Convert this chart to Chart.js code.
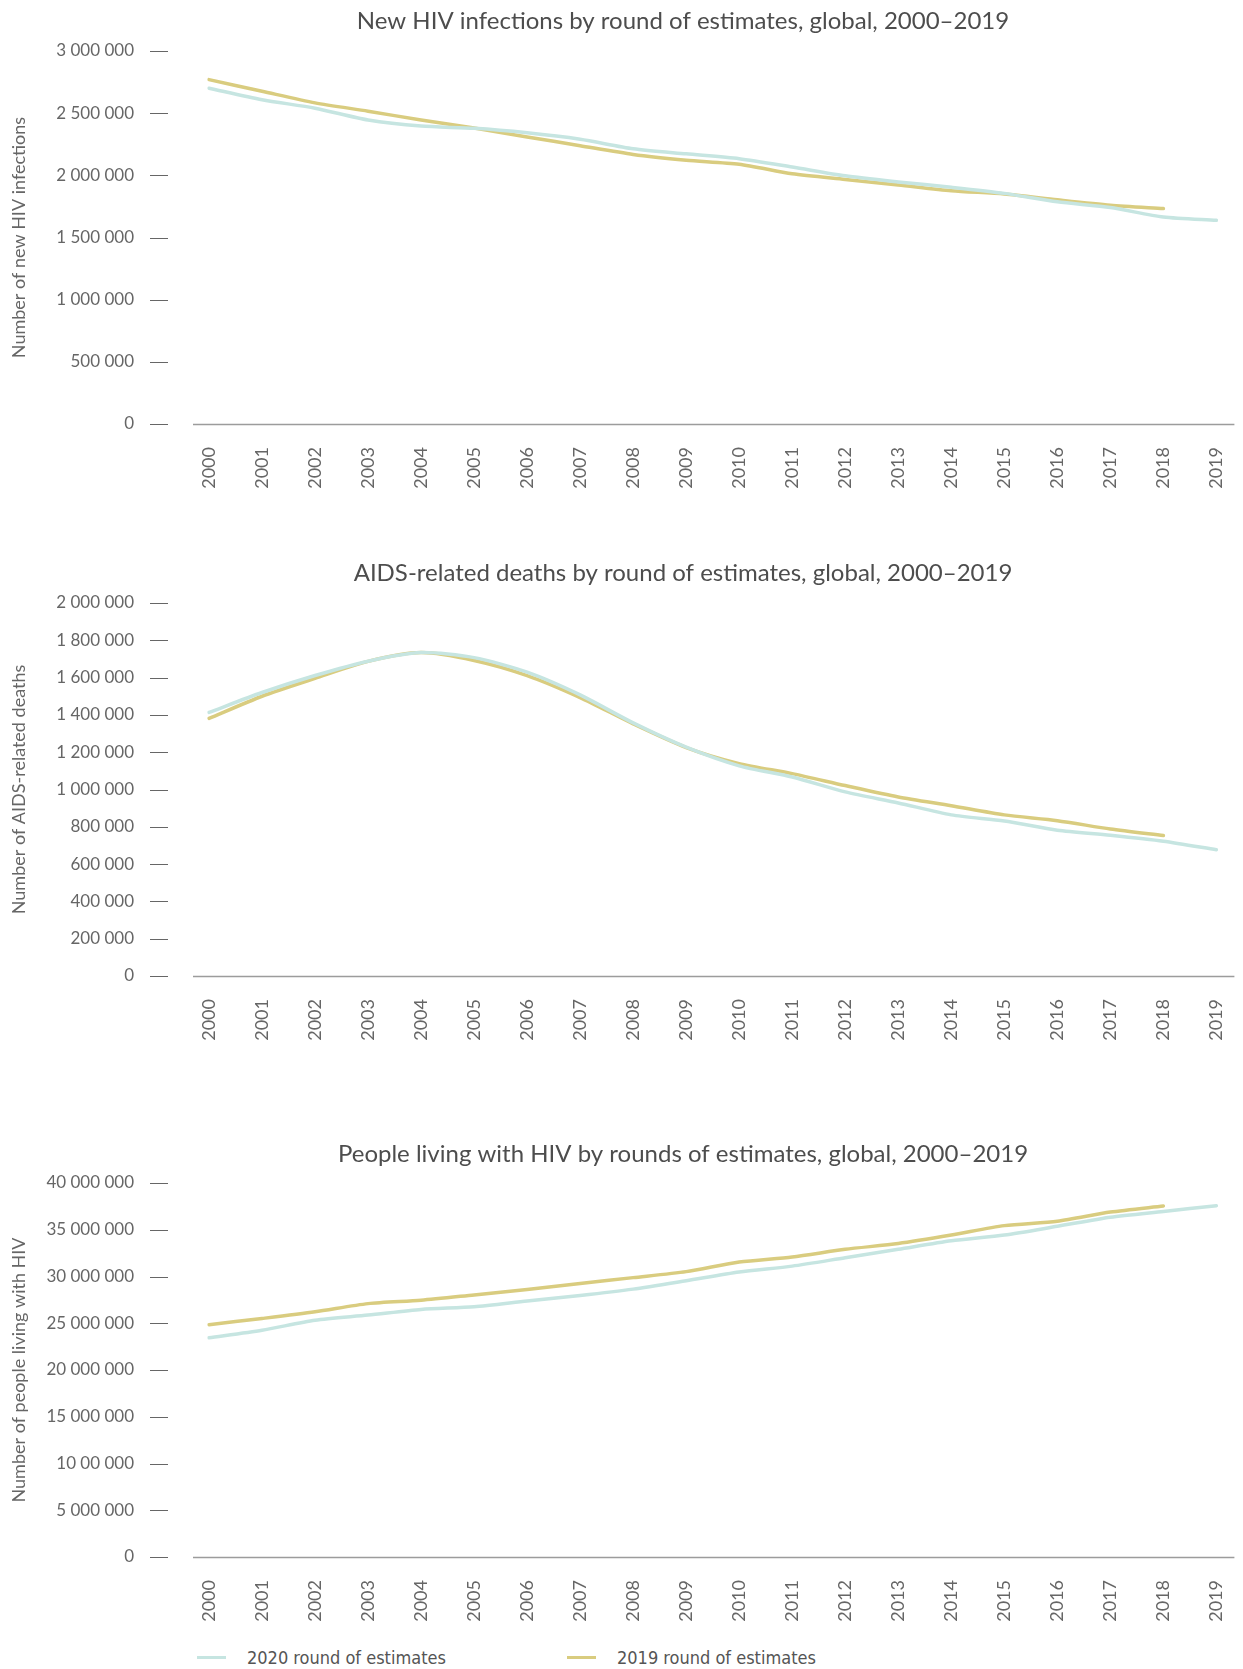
<!DOCTYPE html>
<html>
<head>
<meta charset="utf-8">
<script src="https://cdn.jsdelivr.net/npm/chart.js@4.4.1/dist/chart.umd.min.js"></script>
<style>
  body { margin: 0; background: #fff; width: 1243px; height: 1669px; overflow: hidden; position: relative; }
  canvas { position: absolute; left: 0; }
  #legend { position: absolute; top: 1646px; left: 0; width: 1243px; height: 22px;
    font-family: "Liberation Sans Narrow", "DejaVu Sans Condensed", Lato, sans-serif; font-size: 18px; color: #555; }
  .item { position: absolute; top: 0; display: flex; align-items: center; height: 22px; }
  .swatch { width: 29px; height: 3px; margin-right: 21px; }
</style>
</head>
<body>
<canvas id="infections" width="1243" height="500" style="top:0px"></canvas>
<canvas id="deaths" width="1243" height="512" style="top:540px"></canvas>
<canvas id="living" width="1243" height="523" style="top:1110px"></canvas>
<div id="legend"></div>
<script>
const years = ['2000', '2001', '2002', '2003', '2004', '2005', '2006', '2007', '2008', '2009',
  '2010', '2011', '2012', '2013', '2014', '2015', '2016', '2017', '2018', '2019'];

const seriesNames = ['2020 round of estimates', '2019 round of estimates'];
const seriesColors = ['#c6e5e1', '#d9cc7f'];

// New HIV infections
const infections2020 = [2701000, 2608000, 2540000, 2445000, 2396000, 2378000, 2342000, 2290000, 2214000, 2173000,
  2134000, 2067000, 1996000, 1947000, 1904000, 1855000, 1787000, 1741000, 1665000, 1638000];
const infections2019 = [2770000, 2676000, 2583000, 2516000, 2445000, 2380000, 2309000, 2238000, 2168000, 2122000,
  2089000, 2012000, 1967000, 1923000, 1876000, 1850000, 1803000, 1760000, 1733000];
const infectionTicks = ['0', '500 000', '1 000 000', '1 500 000', '2 000 000', '2 500 000', '3 000 000'];

// AIDS-related deaths
const deaths2020 = [1413000, 1520000, 1611000, 1688000, 1734000, 1707000, 1629000, 1507000, 1357000, 1227000,
  1127000, 1067000, 987000, 928000, 864000, 831000, 782000, 755000, 723000, 677000];
const deaths2019 = [1381000, 1500000, 1596000, 1687000, 1734000, 1692000, 1611000, 1493000, 1352000, 1225000,
  1139000, 1085000, 1021000, 960000, 913000, 864000, 833000, 788000, 753000];
const deathTicks = ['0', '200 000', '400 000', '600 000', '800 000', '1 000 000',
  '1 200 000', '1 400 000', '1 600 000', '1 800 000', '2 000 000'];

// People living with HIV
const living2020 = [23440000, 24250000, 25330000, 25870000, 26480000, 26770000, 27390000, 27970000, 28650000, 29550000,
  30490000, 31110000, 32010000, 32910000, 33820000, 34430000, 35370000, 36340000, 36960000, 37570000];
const living2019 = [24850000, 25510000, 26220000, 27100000, 27460000, 28030000, 28610000, 29260000, 29880000, 30520000,
  31540000, 32090000, 32910000, 33530000, 34430000, 35440000, 35910000, 36890000, 37540000];
const livingTicks = ['0', '5 000 000', '10 00 000', '15 000 000', '20 000 000', '25 000 000',
  '30 000 000', '35 000 000', '40 000 000'];

const font = 'Lato, "Open Sans", sans-serif';
const clear = 'rgba(0,0,0,0)';

// title, little tick dashes left of the labels and the long baseline
const decor = {
  id: 'decor',
  afterDraw(chart, args, opts) {
    const { ctx, chartArea, scales } = chart;
    ctx.save();
    ctx.font = '24px ' + font;
    ctx.fillStyle = '#4d4d4d';
    ctx.textAlign = 'center';
    ctx.textBaseline = 'middle';
    ctx.fillText(opts.title, 683, opts.titleY);

    ctx.strokeStyle = '#666';
    ctx.lineWidth = 1;
    scales.y.ticks.forEach((t, i) => {
      const y = Math.round(scales.y.getPixelForTick(i)) + 0.5;
      ctx.beginPath();
      ctx.moveTo(150, y);
      ctx.lineTo(168, y);
      ctx.stroke();
    });

    const by = Math.round(scales.y.getPixelForValue(0)) + 0.5;
    ctx.strokeStyle = '#9c9c9c';
    ctx.lineWidth = 1.5;
    ctx.beginPath();
    ctx.moveTo(chartArea.left - 16, by);
    ctx.lineTo(chartArea.right + 18, by);
    ctx.stroke();
    ctx.restore();
  }
};

function makeChart(id, title, titleY, padTop, yTitle, max, step, tickLabels, data2020, data2019) {
  return new Chart(document.getElementById(id), {
    type: 'line',
    data: {
      labels: years,
      datasets: [
        { label: seriesNames[0], data: data2020, borderColor: seriesColors[0] },
        { label: seriesNames[1], data: data2019, borderColor: seriesColors[1] }
      ]
    },
    plugins: [decor],
    options: {
      responsive: false,
      animation: false,
      layout: { padding: { top: padTop, right: 24, bottom: 6, left: 0 } },
      elements: {
        line: { borderWidth: 3.5, tension: 0.25, borderCapStyle: 'round', fill: false },
        point: { radius: 0, hoverRadius: 0 }
      },
      plugins: {
        legend: { display: false },
        tooltip: { enabled: false },
        decor: { title: title, titleY: titleY }
      },
      scales: {
        x: {
          afterFit(s) { s.height = 70; },
          grid: { drawOnChartArea: false, drawTicks: true, tickLength: 18, color: clear },
          border: { display: false },
          ticks: {
            autoSkip: false, minRotation: 90, maxRotation: 90, padding: 5,
            color: '#666', font: { family: font, size: 18 }
          }
        },
        y: {
          min: 0,
          max: max,
          afterFit(s) { s.width = 209; },
          grid: { drawOnChartArea: false, drawTicks: true, tickLength: 70, color: clear },
          border: { display: false },
          title: {
            display: true, text: yTitle, color: '#666',
            font: { family: font, size: 18 }, padding: { top: 8, bottom: 0 }
          },
          ticks: {
            stepSize: step, padding: 5, color: '#666',
            font: { family: font, size: 17 },
            callback: (v, i) => tickLabels[i]
          }
        }
      }
    }
  });
}

makeChart('infections', 'New HIV infections by round of estimates, global, 2000–2019', 21, 51,
  'Number of new HIV infections', 3000000, 500000, infectionTicks, infections2020, infections2019);
makeChart('deaths', 'AIDS-related deaths by round of estimates, global, 2000–2019', 33, 63,
  'Number of AIDS-related deaths', 2000000, 200000, deathTicks, deaths2020, deaths2019);
makeChart('living', 'People living with HIV by rounds of estimates, global, 2000–2019', 44, 73,
  'Number of people living with HIV', 40000000, 5000000, livingTicks, living2020, living2019);

// shared legend under the last chart
const legend = document.getElementById('legend');
const legendX = [197, 567];
seriesNames.forEach((name, i) => {
  const item = document.createElement('div');
  item.className = 'item';
  item.style.left = legendX[i] + 'px';
  const sw = document.createElement('span');
  sw.className = 'swatch';
  sw.style.background = seriesColors[i];
  const txt = document.createElement('span');
  txt.textContent = name;
  item.appendChild(sw);
  item.appendChild(txt);
  legend.appendChild(item);
});
</script>
</body>
</html>
